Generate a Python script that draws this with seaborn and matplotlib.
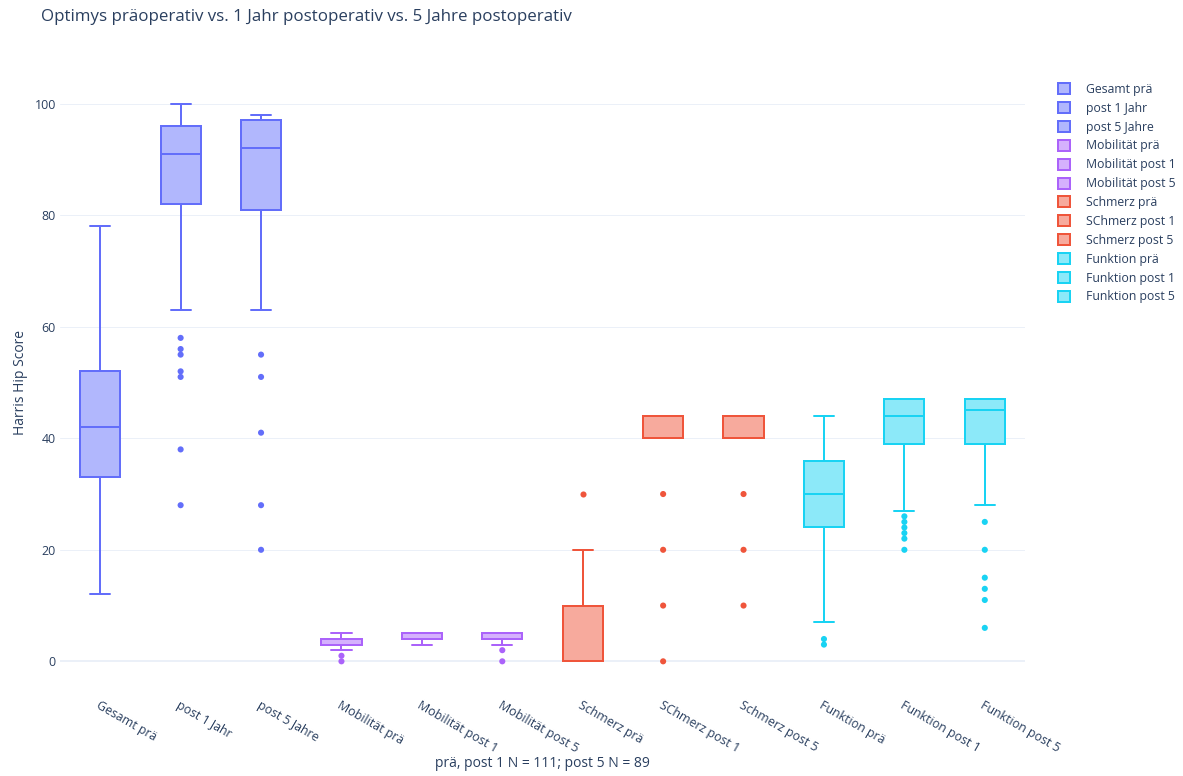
import pandas as pd
import seaborn as sns
import matplotlib.pyplot as plt
from matplotlib.patches import Patch
from matplotlib.colors import to_rgb

# box statistics
categories = ["Gesamt prä", "post 1 Jahr", "post 5 Jahre",
              "Mobilität prä", "Mobilität post 1", "Mobilität post 5",
              "Schmerz prä", "SChmerz post 1", "Schmerz post 5",
              "Funktion prä", "Funktion post 1", "Funktion post 5"]
groups = ["Gesamt"] * 3 + ["Mobilität"] * 3 + ["Schmerz"] * 3 + ["Funktion"] * 3
whisker_low = [12, 63, 63, 2, 3, 3, 0, 40, 40, 7, 27, 28]
q1 = [33, 82, 81, 3, 4, 4, 0, 40, 40, 24, 39, 39]
median = [42, 91, 92, 3, 5, 5, 10, 44, 44, 30, 44, 45]
q3 = [52, 96, 97, 4, 5, 5, 10, 44, 44, 36, 47, 47]
whisker_high = [78, 100, 98, 5, 5, 5, 20, 44, 44, 44, 47, 47]
outliers = [[], [58, 56, 55, 52, 51, 38, 28], [55, 51, 41, 28, 20],
            [1, 0], [], [2, 0],
            [30], [30, 20, 10, 0], [30, 20, 10],
            [4, 3], [26, 25, 24, 23, 22, 20], [25, 20, 15, 13, 11, 6]]

group_colors = {"Gesamt": "#636EFA", "Mobilität": "#AB63FA",
                "Schmerz": "#EF553B", "Funktion": "#19D3F3"}

TEXT = "#2a3f5f"
GRID = "#EBF0F8"


def lighten(color, amount=0.5):
    r, g, b = to_rgb(color)
    return (1 - amount + amount * r, 1 - amount + amount * g, 1 - amount + amount * b)


# five-number rows per category (whis=(0, 100) puts whiskers at min / max)
rows = []
for i, cat in enumerate(categories):
    for v in (whisker_low[i], q1[i], median[i], q3[i], whisker_high[i]):
        rows.append({"category": cat, "group": groups[i], "value": v})
box_df = pd.DataFrame(rows)

out_df = pd.DataFrame(
    [{"category": cat, "value": v} for cat, vals in zip(categories, outliers) for v in vals]
)
cat_palette = {cat: group_colors[g] for cat, g in zip(categories, groups)}

sns.set_style("white")
plt.rcParams["font.family"] = ["Open Sans", "DejaVu Sans"]

fig = plt.figure(figsize=(11.83, 7.76), dpi=100)
ax = fig.add_axes([60 / 1183, 1 - 692 / 776, 965 / 1183, 619 / 776])

LW = 1.44  # 2 px
for g, col in group_colors.items():
    sub = box_df[box_df["group"] == g]
    sns.boxplot(data=sub, x="category", y="value", order=categories,
                color=lighten(col), linecolor=col, saturation=1,
                width=0.5, whis=(0, 100), linewidth=LW, ax=ax)

sns.stripplot(data=out_df, x="category", y="value", order=categories,
              hue="category", palette=cat_palette, jitter=False, size=4.4,
              linewidth=0, legend=False, ax=ax, zorder=3)

ax.set_xlim(-0.5, 11.5)
ax.set_ylim(-5.5, 105.5)
ax.set_yticks(range(0, 101, 20))
ax.yaxis.grid(True, color=GRID, linewidth=0.72)
ax.xaxis.grid(False)
ax.axhline(0, color=GRID, linewidth=1.44, zorder=0)
ax.set_axisbelow(True)
for s in ax.spines.values():
    s.set_visible(False)

ax.tick_params(axis="both", length=0, colors=TEXT, labelsize=8.9)
ax.tick_params(axis="y", pad=3)
ax.tick_params(axis="x", pad=5)
ax.set_xticks(range(len(categories)))
ax.set_xticklabels(categories, rotation=-30, ha="left", va="top",
                   rotation_mode="anchor")

ax.set_ylabel("Harris Hip Score", fontsize=10, color=TEXT)
ax.yaxis.set_label_coords(-0.033, 0.5)
ax.set_xlabel("prä, post 1 N = 111; post 5 N = 89", fontsize=10, color=TEXT)
ax.xaxis.set_label_coords(0.5, -0.103)

fig.text(41 / 1183, 1 - 17 / 776, "Optimys präoperativ vs. 1 Jahr postoperativ vs. 5 Jahre postoperativ",
         fontsize=12.2, color=TEXT, va="center", ha="left")

handles = [Patch(facecolor=lighten(group_colors[g]), edgecolor=group_colors[g], linewidth=LW)
           for g in groups]
fig.legend(handles, categories, loc="upper left",
           bbox_to_anchor=(1053 / 1183, 1 - 78 / 776), frameon=False,
           fontsize=8.8, labelcolor=TEXT, handlelength=1.0, handleheight=1.0,
           handletextpad=1.3, labelspacing=0.48, borderaxespad=0)

fig.savefig("out.png", dpi=100)
